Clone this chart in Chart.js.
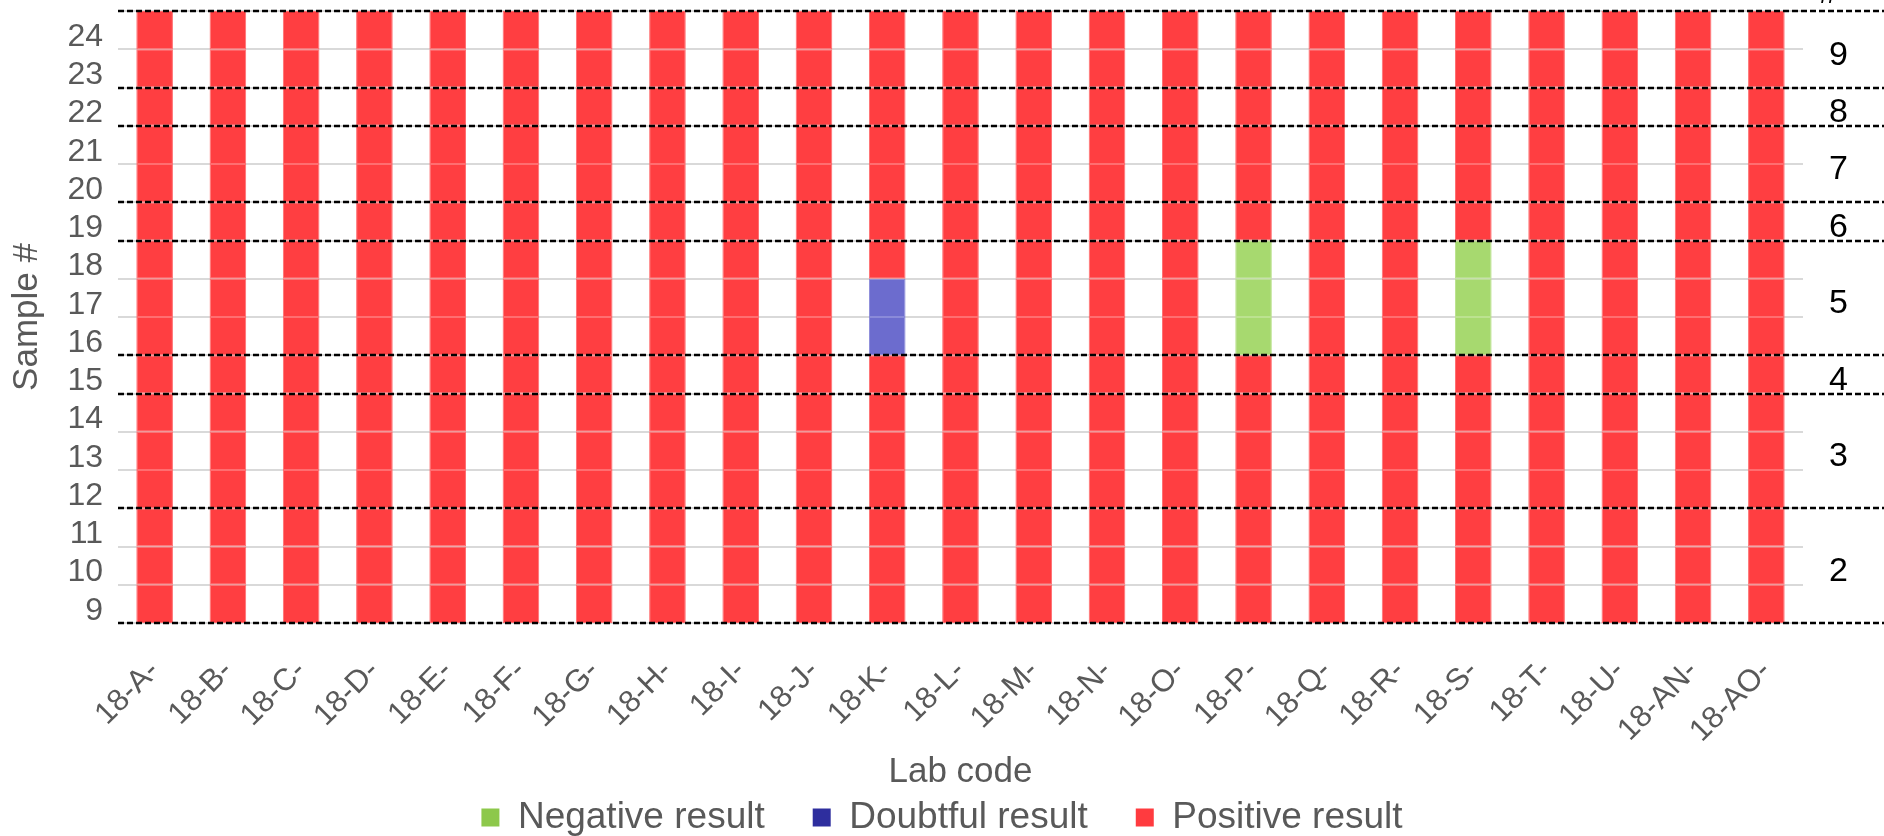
<!DOCTYPE html>
<html>
<head>
<meta charset="utf-8">
<script src="https://cdn.jsdelivr.net/npm/chart.js@4.4.1/dist/chart.umd.min.js"></script>
<style>
html,body{margin:0;padding:0;background:#fff;}
#wrap{width:1884px;height:836px;position:relative;}
</style>
</head>
<body>
<div id="wrap"><canvas id="c"></canvas></div>
<script>
// ---- data ----
const labCodes = ['18-A-','18-B-','18-C-','18-D-','18-E-','18-F-','18-G-','18-H-','18-I-','18-J-','18-K-','18-L-','18-M-','18-N-','18-O-','18-P-','18-Q-','18-R-','18-S-','18-T-','18-U-','18-AN-','18-AO-'];
const sampleNumbers = [9,10,11,12,13,14,15,16,17,18,19,20,21,22,23,24];
const groupNumbers = [2,3,4,5,6,7,8,9];
const groupFirstSample = [9,12,15,16,19,20,22,23];
const groupLastSample = [11,14,15,18,19,21,22,24];
const negativeLabs = ['18-P-','18-S-'];
const negativeSamples = [[16,17,18],[16,17,18]];
const doubtfulLabs = ['18-K-'];
const doubtfulSamples = [[16,17]];
const resultNames = ['Negative result','Doubtful result','Positive result'];

// ---- style ----
const FONT = "'Liberation Sans', Arial, sans-serif";
const GRAY = '#595959';
const segColors = ['#A7D96F', '#6C6CCE', '#FF3E41'];
const segEdgeColors = ['#BCE290', '#8A8AD9', '#FF6E70'];
const legendColors = ['#8DC84B', '#2E2E9E', '#FF3B3F'];
Chart.defaults.font.family = FONT;

function resultOf(lab, sample) {
  const n = negativeLabs.indexOf(lab);
  if (n >= 0 && negativeSamples[n].includes(sample)) return 0;
  const d = doubtfulLabs.indexOf(lab);
  if (d >= 0 && doubtfulSamples[d].includes(sample)) return 1;
  return 2;
}

const datasets = sampleNumbers.map(s => ({
  label: 'Sample ' + s,
  data: labCodes.map(() => [s - 0.5, s + 0.5]),
  backgroundColor: labCodes.map(l => segColors[resultOf(l, s)]),
  borderColor: labCodes.map(l => segEdgeColors[resultOf(l, s)]),
  borderWidth: 1,
  borderSkipped: false,
  barPercentage: 0.5,
  categoryPercentage: 1.0
}));

const groupLines = {
  id: 'groupLines',
  afterDatasetsDraw(chart) {
    const {ctx, chartArea, scales: {y}} = chart;
    const bounds = new Set();
    groupFirstSample.forEach((f, i) => { bounds.add(f - 0.5); bounds.add(groupLastSample[i] + 0.5); });
    ctx.save();
    ctx.strokeStyle = '#000';
    ctx.lineWidth = 2.5;
    ctx.setLineDash([6, 3]);
    bounds.forEach(b => {
      const py = Math.round(y.getPixelForValue(b));
      ctx.beginPath();
      ctx.moveTo(chartArea.left, py);
      ctx.lineTo(chart.width, py);
      ctx.stroke();
    });
    ctx.restore();
    ctx.save();
    ctx.fillStyle = '#000';
    ctx.font = "34px " + FONT;
    ctx.textBaseline = 'alphabetic';
    ctx.fillText('#', chartArea.right + 16, 3);
    ctx.restore();
  }
};

new Chart(document.getElementById('c'), {
  type: 'bar',
  data: { labels: labCodes, datasets },
  plugins: [groupLines],
  options: {
    responsive: true,
    maintainAspectRatio: false,
    animation: false,
    layout: { padding: { top: 11, left: 0, right: 0, bottom: 0 } },
    plugins: {
      tooltip: { enabled: false },
      legend: {
        position: 'bottom',
        maxHeight: 85,
        onClick: null,
        labels: {
          boxWidth: 18,
          boxHeight: 18,
          padding: 48,
          color: GRAY,
          font: { family: FONT, size: 37 },
          generateLabels: () => resultNames.map((t, i) => ({
            text: t, fillStyle: legendColors[i], strokeStyle: legendColors[i],
            lineWidth: 0, hidden: false, datasetIndex: i, fontColor: GRAY
          }))
        }
      }
    },
    scales: {
      x: {
        type: 'category',
        stacked: true,
        grid: { display: false },
        border: { display: false },
        ticks: {
          color: GRAY, font: { size: 31 }, minRotation: 45, maxRotation: 45,
          autoSkip: false, padding: 22
        },
        title: {
          display: true, text: 'Lab code', color: GRAY, font: { size: 35 },
          padding: { top: 0, bottom: -42 }
        },
        afterFit: s => { s.height = 128; s.paddingLeft = 0; s.paddingRight = 0; }
      },
      y: {
        type: 'linear',
        position: 'left',
        min: 8.5,
        max: 24.5,
        afterBuildTicks: s => { s.ticks = sampleNumbers.map(v => ({ value: v })); },
        grid: { offset: true, color: '#d9d9d9', lineWidth: 2, drawTicks: false },
        border: { display: false },
        ticks: { autoSkip: false, padding: 15, labelOffset: 7, color: GRAY, font: { size: 32 } },
        title: {
          display: true, text: 'Sample #', color: GRAY, font: { size: 35 },
          padding: { top: 6, bottom: 0 }
        },
        afterFit: s => { s.width = 118; s.paddingTop = 0; s.paddingBottom = 0; }
      },
      y2: {
        type: 'linear',
        position: 'right',
        min: 8.5,
        max: 24.5,
        afterBuildTicks: s => {
          s.ticks = groupFirstSample.map((f, i) => ({ value: (f + groupLastSample[i]) / 2 }));
        },
        grid: { display: false, drawOnChartArea: false },
        border: { display: false },
        ticks: {
          autoSkip: false, padding: 18, labelOffset: 6, color: '#000', font: { size: 34 },
          callback: (v, i) => String(groupNumbers[i])
        },
        afterFit: s => { s.width = 81; s.paddingTop = 0; s.paddingBottom = 0; }
      }
    }
  }
});
</script>
</body>
</html>
